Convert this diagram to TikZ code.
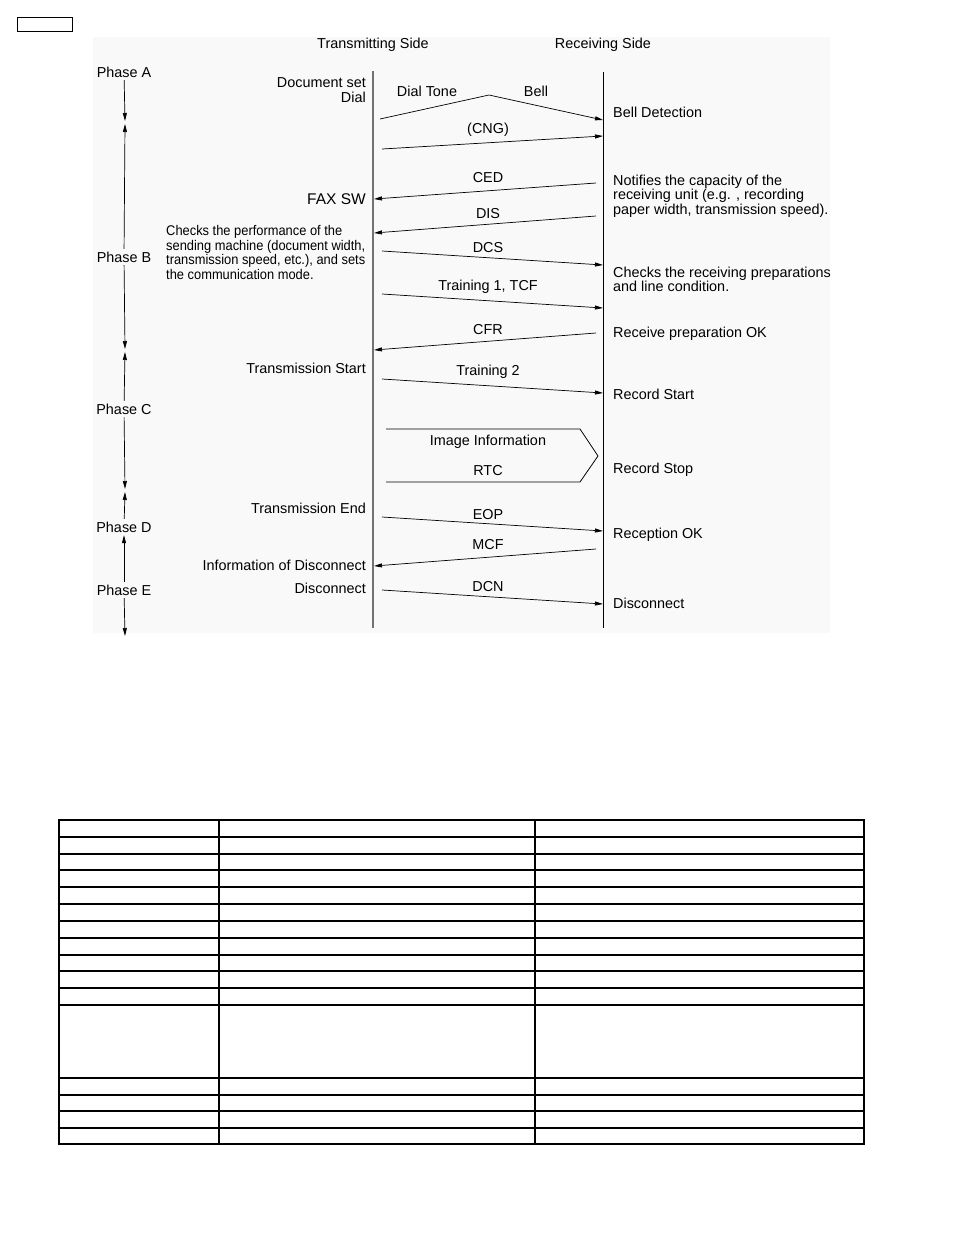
\documentclass[tikz,border=0pt]{standalone}
\usepackage{fontspec}
\setmainfont{Liberation Sans}
\newfontfamily\narrowsans[FakeStretch=0.92]{Liberation Sans}
\usetikzlibrary{arrows.meta}

\begin{document}
\begin{tikzpicture}[x=1pt,y=-1pt,
  >={Triangle[length=8pt,width=4pt]},
  lbl/.style={inner sep=0pt, font=\fontsize{14.4}{14.3}\selectfont},
  phase/.style={lbl, inner sep=3pt, text height=10pt, text depth=0pt},
  msg/.style={line width=0.7pt, ->},
  life/.style={line width=1.4pt, black!55}]
\useasboundingbox (0,0) rectangle (954,1235);
\fill[black!2.5] (93,37) rectangle (830,633);
\draw[line width=0.8pt] (17,17) rectangle (72,31);

% sides and life lines
\node[lbl] (tside) at (373,45) {Transmitting Side};
\node[lbl] (rside) at (603,45) {Receiving Side};
\coordinate (tTop) at (373,71);
\coordinate (tBot) at (373,628);
\coordinate (rTop) at (603,72);
\coordinate (rBot) at (603,628);
\draw[life] (tTop) -- (tBot);
\draw[line width=0.9pt] (rTop) -- (rBot);

% phases
\node[phase] (phA) at (124,72) {Phase A};
\node[phase] (phB) at (124,257) {Phase B};
\node[phase] (phC) at (124,409) {Phase C};
\node[phase] (phD) at (124,527) {Phase D};
\node[phase] (phE) at (124,590) {Phase E};
\coordinate (ab1) at (125,121);
\coordinate (ab2) at (125,124);
\coordinate (bc1) at (125,349);
\coordinate (bc2) at (125,352);
\coordinate (cd1) at (125,489);
\coordinate (cd2) at (125,492);
\coordinate (eEnd) at (125,636);
\draw[line width=0.7pt, ->] (phA) -- (ab1);
\draw[line width=0.7pt, <-] (ab2) -- (phB);
\draw[line width=0.7pt, ->] (phB) -- (bc1);
\draw[line width=0.7pt, <-] (bc2) -- (phC);
\draw[line width=0.7pt, ->] (phC) -- (cd1);
\draw[line width=0.7pt, <-] (cd2) -- (phD);
\draw[line width=0.7pt, <-] (phD) -- (phE);
\draw[line width=0.7pt, ->] (phE) -- (eEnd);

% transmitting side texts
\node[lbl, anchor=east, align=right] (docset) at (366,90) {Document set\\Dial};
\node[lbl, anchor=east, font=\fontsize{15.5}{16}\selectfont] (faxsw) at (366,199) {FAX SW};
\node[lbl, anchor=west, align=left, font=\narrowsans\fontsize{14}{14.4}\selectfont] (tcheck) at (166,252.5)
  {Checks the performance of the\\sending machine (document width,\\transmission speed, etc.), and sets\\the communication mode.};
\node[lbl, anchor=east] (tstart) at (366,368) {Transmission Start};
\node[lbl, anchor=east] (tend) at (366,508) {Transmission End};
\node[lbl, anchor=east] (tinfo) at (366,565) {Information of Disconnect};
\node[lbl, anchor=east] (tdisc) at (366,588) {Disconnect};

% receiving side texts
\node[lbl, anchor=west] (bell) at (613,112) {Bell Detection};
\node[lbl, anchor=west, align=left] (notify) at (613,196)
  {Notifies the capacity of the\\receiving unit (e.g. , recording\\paper width, transmission speed).};
\node[lbl, anchor=west, align=left] (rcheck) at (613,279)
  {Checks the receiving preparations\\and line condition.};
\node[lbl, anchor=west] (rprep) at (613,334) {Receive preparation OK};
\node[lbl, anchor=west] (rstart) at (613,394) {Record Start};
\node[lbl, anchor=west] (rstop) at (613,470) {Record Stop};
\node[lbl, anchor=west] (rok) at (613,535) {Reception OK};
\node[lbl, anchor=west] (rdisc) at (613,603) {Disconnect};

% dial tone / bell
\coordinate (dial-s) at (380,119);
\coordinate (dial-m) at (489,95);
\coordinate (dial-e) at (603,120);
\draw[msg] (dial-s) -- (dial-m) -- (dial-e);
\node[lbl] (dialtone) at (427,91) {Dial Tone};
\node[lbl] (bellsig) at (536,91) {Bell};

% signals to the receiving side
\foreach \nm/\ya/\yb/\txt/\ly in {cng/149/136/(CNG)/130, dcs/251/265/DCS/248,
    tcf/294/308/{Training 1, TCF}/287, trb/379/393/Training 2/372,
    eop/517/531/EOP/515, dcn/590/604/DCN/587}{
  \coordinate (\nm-s) at (382,\ya);
  \coordinate (\nm-e) at (603,\yb);
  \draw[msg] (\nm-s) -- (\nm-e);
  \node[lbl] (\nm-l) at (488,\ly) {\txt};
}

% signals to the transmitting side
\foreach \nm/\ya/\yb/\txt/\ly in {ced/183/199/CED/178, dis/216/233/DIS/214,
    cfr/333/350/CFR/330, mcf/549/566/MCF/545}{
  \coordinate (\nm-s) at (596,\ya);
  \coordinate (\nm-e) at (374,\yb);
  \draw[msg] (\nm-s) -- (\nm-e);
  \node[lbl] (\nm-l) at (488,\ly) {\txt};
}

% image information block
\draw[line width=0.8pt] (386,429) -- (580,429) -- (598,456) -- (580,482) -- (386,482);
\node[lbl] (imginfo) at (488,442) {Image Information};
\node[lbl] (rtc) at (488,471) {RTC};

% empty table
\draw[line width=1.5pt] (59,820) rectangle (864,1144);
\foreach \y in {837,854,870,887,904,921,938,955,971,988,1005,1078,1095,1111,1128}
  \draw[line width=1.3pt] (59,\y) -- (864,\y);
\draw[line width=1.3pt] (219,820) -- (219,1144);
\draw[line width=1.3pt] (535,820) -- (535,1144);
\end{tikzpicture}
\end{document}
